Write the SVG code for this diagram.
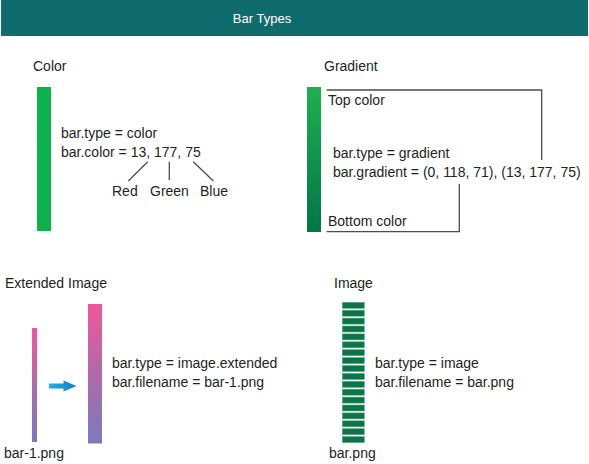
<svg xmlns="http://www.w3.org/2000/svg" width="589" height="464" viewBox="0 0 589 464">
  <style>
    text { font-family: "Liberation Sans", Arial, sans-serif; font-size: 14px; fill: #231f20; }
    .title { fill: #ffffff; font-size: 13px; text-anchor: middle; }
    .conn { stroke: #4d4d4d; stroke-width: 1.3; fill: none; }
    .stripe { fill: #0b7448; stroke: #5aa884; stroke-width: 0.6; }
  </style>
  <defs>
    <linearGradient id="gGrad" x1="0" y1="0" x2="0" y2="1">
      <stop offset="0" stop-color="#1fb04f"/>
      <stop offset="1" stop-color="#007647"/>
    </linearGradient>
    <linearGradient id="pGrad" x1="0" y1="0" x2="0" y2="1">
      <stop offset="0" stop-color="#f2579b"/>
      <stop offset="0.5" stop-color="#b06aa8"/>
      <stop offset="1" stop-color="#7a7bbd"/>
    </linearGradient>
    <linearGradient id="aGrad" x1="0" y1="0" x2="1" y2="0">
      <stop offset="0" stop-color="#29abe2"/>
      <stop offset="1" stop-color="#0a84c8"/>
    </linearGradient>
  </defs>

  <rect width="589" height="464" fill="#ffffff"/>

  <g id="header">
    <rect x="1" y="0" width="587" height="36" fill="#106c6c"/>
    <text class="title" x="262" y="23">Bar Types</text>
  </g>

  <g id="color">
    <text x="33" y="71">Color</text>
    <rect x="37" y="87" width="14" height="144" fill="#0db14b"/>
    <text x="61" y="138">bar.type = color</text>
    <text x="61" y="157">bar.color = 13, 177, 75</text>
    <text x="112" y="196">Red</text>
    <text x="150" y="196">Green</text>
    <text x="200" y="196">Blue</text>
  </g>

  <g id="gradient">
    <text x="324" y="71">Gradient</text>
    <rect x="307" y="87" width="14" height="145" fill="url(#gGrad)"/>
    <text x="328" y="105">Top color</text>
    <text x="333" y="158">bar.type = gradient</text>
    <text x="333" y="177">bar.gradient = (0, 118, 71), (13, 177, 75)</text>
    <text x="328" y="226">Bottom color</text>
  </g>

  <g id="extended-image">
    <text x="5" y="288">Extended Image</text>
    <rect x="32" y="328" width="5" height="114" fill="url(#pGrad)"/>
    <path d="M49 383.5 H63.5 V380.5 L76.5 386 L63.5 391.5 V388.5 H49 Z" fill="url(#aGrad)"/>
    <rect x="88" y="304" width="14" height="139.5" fill="url(#pGrad)"/>
    <text x="112" y="368">bar.type = image.extended</text>
    <text x="112" y="387">bar.filename = bar-1.png</text>
    <text x="4" y="458">bar-1.png</text>
  </g>

  <g id="image">
    <text x="334" y="288">Image</text>
    <g>
      <rect class="stripe" x="342.3" y="302.3" width="22" height="6"/>
      <rect class="stripe" x="342.3" y="310.2" width="22" height="6"/>
      <rect class="stripe" x="342.3" y="318.1" width="22" height="6"/>
      <rect class="stripe" x="342.3" y="326.0" width="22" height="6"/>
      <rect class="stripe" x="342.3" y="333.9" width="22" height="6"/>
      <rect class="stripe" x="342.3" y="341.8" width="22" height="6"/>
      <rect class="stripe" x="342.3" y="349.7" width="22" height="6"/>
      <rect class="stripe" x="342.3" y="357.6" width="22" height="6"/>
      <rect class="stripe" x="342.3" y="365.5" width="22" height="6"/>
      <rect class="stripe" x="342.3" y="373.4" width="22" height="6"/>
      <rect class="stripe" x="342.3" y="381.3" width="22" height="6"/>
      <rect class="stripe" x="342.3" y="389.2" width="22" height="6"/>
      <rect class="stripe" x="342.3" y="397.1" width="22" height="6"/>
      <rect class="stripe" x="342.3" y="405.0" width="22" height="6"/>
      <rect class="stripe" x="342.3" y="412.9" width="22" height="6"/>
      <rect class="stripe" x="342.3" y="420.8" width="22" height="6"/>
      <rect class="stripe" x="342.3" y="428.7" width="22" height="6"/>
      <rect class="stripe" x="342.3" y="436.6" width="22" height="6"/>
    </g>
    <text x="375" y="368">bar.type = image</text>
    <text x="375" y="387">bar.filename = bar.png</text>
    <text x="329" y="458">bar.png</text>
  </g>

  <g id="connectors">
    <line class="conn" x1="147.7" y1="161.7" x2="128.3" y2="181"/>
    <line class="conn" x1="169.3" y1="161.7" x2="169.3" y2="180" stroke="#777"/>
    <line class="conn" x1="193.3" y1="161.7" x2="213.3" y2="181"/>
    <polyline class="conn" points="326.7,90 541.7,90 541.7,160"/>
    <polyline class="conn" points="326.7,231.7 459.3,231.7 459.3,184"/>
  </g>
</svg>
